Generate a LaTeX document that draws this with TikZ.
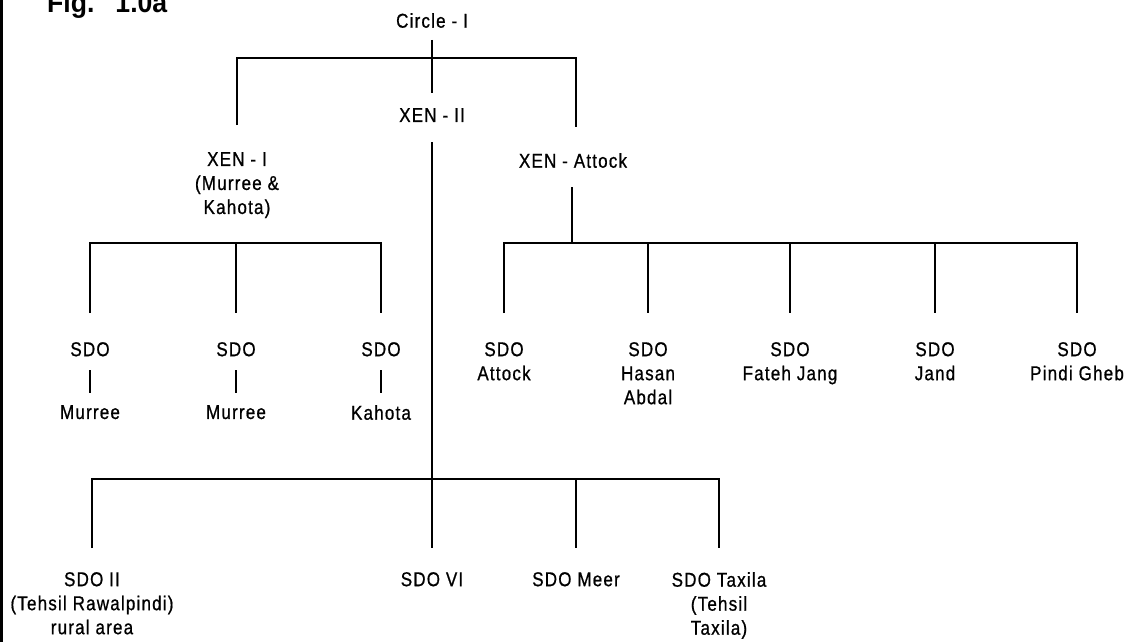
\documentclass[tikz,border=0pt]{standalone}
\usepackage{fontspec}
\setmainfont{Liberation Sans}[FakeStretch=0.85,LetterSpace=6,FakeBold=0.8]
\newfontfamily\figfont{Liberation Sans}[FakeStretch=0.95]
\begin{document}
\begin{tikzpicture}[x=1pt,y=-1pt,
  lbl/.style={font=\fontsize{20}{24}\selectfont, align=center, inner sep=0pt, anchor=north},
  conn/.style={line width=2.2pt}]
\useasboundingbox (0,0) rectangle (1131,642);
% page border on the left
\draw[line width=3pt] (1.5,0) -- (1.5,642);
\node[font=\figfont\bfseries\fontsize{28}{32}\selectfont, anchor=base west, inner sep=0pt] (fig) at (47,13) {Fig.\hspace{21pt}1.0a};

% y levels
\foreach \v in {40,58,93,125,127,142,187,243,313,370,393,479,548}
  \coordinate (y\v) at (0,\v);

% nodes
\node[lbl] (circle) at (432,13) {Circle - I};
\node[lbl] (xen2) at (432,108) {XEN - II};
\node[lbl] (xen1) at (237,152) {XEN - I\\(Murree \&\\Kahota)};
\node[lbl] (xenA) at (573,153) {XEN - Attock};

\node[lbl] (lS1) at (90,342) {SDO};
\node[lbl] (lS2) at (236,342) {SDO};
\node[lbl] (lS3) at (381,342) {SDO};
\node[lbl] (lM1) at (90,405) {Murree};
\node[lbl] (lM2) at (236,405) {Murree};
\node[lbl] (lM3) at (381,405) {Kahota};

\node[lbl] (aS1) at (504,342) {SDO\\Attock};
\node[lbl] (aS2) at (648,342) {SDO\\Hasan\\Abdal};
\node[lbl] (aS3) at (790,342) {SDO\\Fateh Jang};
\node[lbl] (aS4) at (935,342) {SDO\\Jand};
\node[lbl] (aS5) at (1077,342) {SDO\\Pindi Gheb};

\node[lbl] (b1) at (92,572) {SDO II\\(Tehsil Rawalpindi)\\rural area};
\node[lbl] (b2) at (432,572) {SDO VI};
\node[lbl] (b3) at (576,572) {SDO Meer};
\node[lbl] (b4) at (719,572) {SDO Taxila\\(Tehsil\\Taxila)};

% connectors
\draw[conn] (circle.south |- y40) -- (xen2.north |- y93);
\draw[conn] (xen1.north |- y125) |- ([xshift=3pt]xenA.north |- y58) -- ([xshift=3pt]xenA.north |- y127);
\draw[conn] ([xshift=-1pt]xenA.south |- y187) -- ([xshift=-1pt]xenA.south |- y243);

\draw[conn] (lS1.north |- y313) |- (lS3.north |- y243) -- (lS3.north |- y313);
\draw[conn] (lS2.north |- y243) -- (lS2.north |- y313);
\draw[conn] (lS1.south |- y370) -- (lM1.north |- y393);
\draw[conn] (lS2.south |- y370) -- (lM2.north |- y393);
\draw[conn] (lS3.south |- y370) -- (lM3.north |- y393);

\draw[conn] (aS1.north |- y313) |- (aS5.north |- y243) -- (aS5.north |- y313);
\draw[conn] (aS2.north |- y243) -- (aS2.north |- y313);
\draw[conn] (aS3.north |- y243) -- (aS3.north |- y313);
\draw[conn] (aS4.north |- y243) -- (aS4.north |- y313);

\draw[conn] (xen2.south |- y142) -- (b2.north |- y548);
\draw[conn] (b1.north |- y548) |- (b4.north |- y479) -- (b4.north |- y548);
\draw[conn] (b3.north |- y479) -- (b3.north |- y548);
\end{tikzpicture}
\end{document}
